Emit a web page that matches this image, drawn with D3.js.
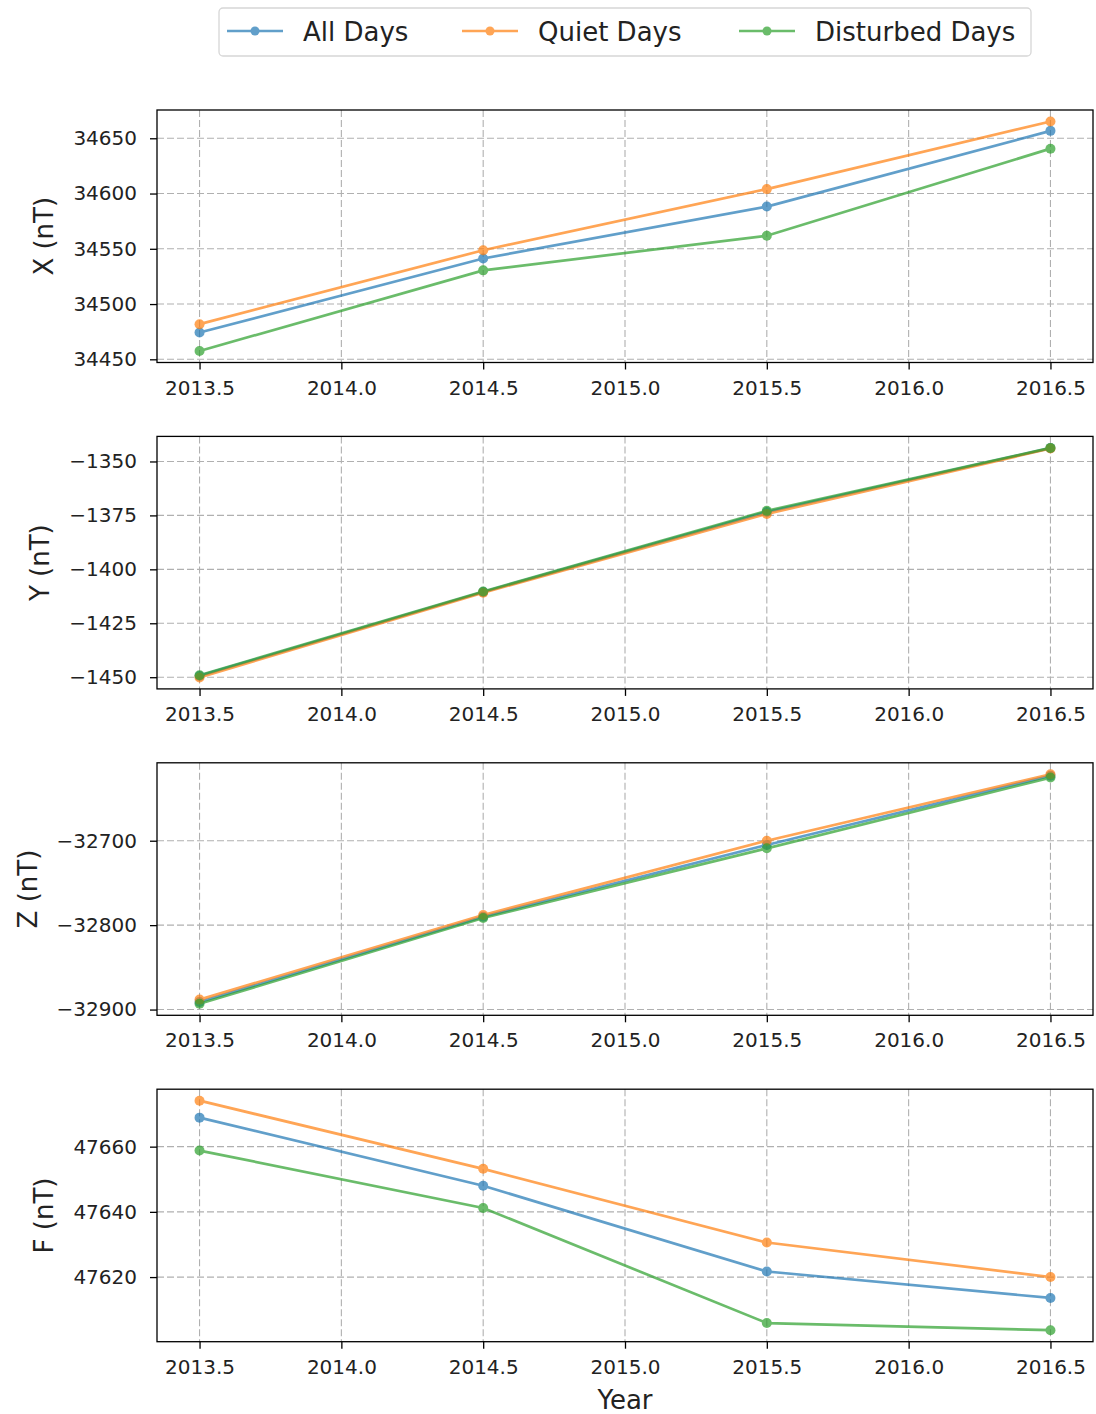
<!DOCTYPE html>
<html>
<head>
<meta charset="utf-8">
<script src="https://cdn.jsdelivr.net/npm/d3@7"></script>
<style>
  body { margin: 0; background: #fff; }
  svg { font-family: "DejaVu Sans", sans-serif; }
</style>
</head>
<body>
<svg id="chart" width="1096" height="1414"></svg>
<script>
// years of the annual means
var years = [2013.5, 2014.5, 2015.5, 2016.5];
var xTicks = [2013.5, 2014.0, 2014.5, 2015.0, 2015.5, 2016.0, 2016.5];

var seriesNames = ["All Days", "Quiet Days", "Disturbed Days"];
var seriesColors = ["#1f77b4", "#ff7f0e", "#2ca02c"];

var compX = "X (nT)";
var allX = [34474.2, 34541.2, 34588.2, 34656.7];
var quietX = [34481.8, 34548.7, 34604.0, 34665.2];
var distX = [34457.5, 34530.5, 34561.8, 34640.6];
var ticksX = [34450, 34500, 34550, 34600, 34650];

var compY = "Y (nT)";
var allY = [-1449.4, -1410.5, -1373.4, -1343.8];
var quietY = [-1450.1, -1410.8, -1374.3, -1344.0];
var distY = [-1449.1, -1410.3, -1372.9, -1343.7];
var ticksY = [-1450, -1425, -1400, -1375, -1350];

var compZ = "Z (nT)";
var allZ = [-32891.0, -32790.0, -32705.0, -32623.0];
var quietZ = [-32888.2, -32788.0, -32700.0, -32621.3];
var distZ = [-32893.2, -32791.5, -32709.0, -32625.2];
var ticksZ = [-32900, -32800, -32700];

var compF = "F (nT)";
var allF = [47668.9, 47648.0, 47621.7, 47613.6];
var quietF = [47674.1, 47653.2, 47630.6, 47620.0];
var distF = [47658.8, 47641.2, 47605.9, 47603.7];
var ticksF = [47620, 47640, 47660];

var panels = [
    { label: compX, series: [allX, quietX, distX], ticks: ticksX },
    { label: compY, series: [allY, quietY, distY], ticks: ticksY },
    { label: compZ, series: [allZ, quietZ, distZ], ticks: ticksZ },
    { label: compF, series: [allF, quietF, distF], ticks: ticksF }
];

var svg = d3.select("#chart");
var left = 157, right = 1093;
var firstTop = 110, step = 326.4, panelH = 252.5;

var x = d3.scaleLinear()
    .domain([years[0] - 0.15, years[years.length - 1] + 0.15])
    .range([left, right]);

panels.forEach(function (p, i) {
    var top = firstTop + i * step;
    var bottom = top + panelH;
    var all = d3.merge(p.series);
    var lo = d3.min(all), hi = d3.max(all);
    var m = (hi - lo) * 0.05;
    var y = d3.scaleLinear().domain([lo - m, hi + m]).range([bottom, top]);

    var g = svg.append("g");

    // grid
    g.selectAll(".gx").data(xTicks).enter().append("line")
        .attr("x1", function (d) { return x(d); })
        .attr("x2", function (d) { return x(d); })
        .attr("y1", top).attr("y2", bottom)
        .attr("stroke", "#b0b0b0").attr("stroke-width", 1.1)
        .attr("stroke-dasharray", "7,3");
    g.selectAll(".gy").data(p.ticks).enter().append("line")
        .attr("x1", left).attr("x2", right)
        .attr("y1", function (d) { return y(d); })
        .attr("y2", function (d) { return y(d); })
        .attr("stroke", "#b0b0b0").attr("stroke-width", 1.1)
        .attr("stroke-dasharray", "7,3");

    // series
    var line = d3.line()
        .x(function (d, j) { return x(years[j]); })
        .y(function (d) { return y(d); });
    p.series.forEach(function (vals, k) {
        var sg = g.append("g").attr("opacity", 0.7);
        sg.append("path")
            .attr("d", line(vals))
            .attr("fill", "none")
            .attr("stroke", seriesColors[k])
            .attr("stroke-width", 2.7);
        sg.selectAll("circle").data(vals).enter().append("circle")
            .attr("cx", function (d, j) { return x(years[j]); })
            .attr("cy", function (d) { return y(d); })
            .attr("r", 5)
            .attr("fill", seriesColors[k]);
    });

    // frame
    g.append("rect")
        .attr("x", left).attr("y", top)
        .attr("width", right - left).attr("height", panelH)
        .attr("fill", "none").attr("stroke", "#000").attr("stroke-width", 1.3);

    // axes
    var ax = g.append("g")
        .attr("transform", "translate(0," + bottom + ")")
        .call(d3.axisBottom(x).tickValues(xTicks).tickFormat(d3.format(".1f"))
            .tickSize(7).tickPadding(11));
    var ay = g.append("g")
        .attr("transform", "translate(" + left + ",0)")
        .call(d3.axisLeft(y).tickValues(p.ticks).tickFormat(d3.format("d"))
            .tickSize(7).tickPadding(13));
    [ax, ay].forEach(function (a) {
        a.select(".domain").remove();
        a.selectAll(".tick line").attr("stroke", "#000").attr("stroke-width", 1.3);
        a.selectAll(".tick text").attr("font-size", 20).attr("fill", "#222")
            .attr("font-family", "DejaVu Sans, sans-serif");
    });

    // the axis group is shifted by "left", so its bbox is local to that
    var bb = ay.node().getBBox();
    g.append("text")
        .attr("transform", "translate(" + (left + bb.x - 20) + "," + (top + panelH / 2) + ") rotate(-90)")
        .attr("text-anchor", "middle")
        .attr("font-size", 26)
        .attr("fill", "#222")
        .text(p.label);
});

svg.append("text")
    .attr("x", (left + right) / 2).attr("y", 1409)
    .attr("text-anchor", "middle")
    .attr("font-size", 26)
    .attr("fill", "#222")
    .text("Year");

// legend
var leg = svg.append("g");
leg.append("rect")
    .attr("x", 219).attr("y", 8).attr("width", 812).attr("height", 48)
    .attr("rx", 4).attr("ry", 4)
    .attr("fill", "#fff").attr("stroke", "#d6d6d6").attr("stroke-width", 1.3);
var legX = [227, 462, 739];
seriesNames.forEach(function (name, k) {
    var lg = leg.append("g").attr("transform", "translate(" + legX[k] + ",31)");
    var h = lg.append("g").attr("opacity", 0.7);
    h.append("line").attr("x1", 0).attr("x2", 56).attr("y1", 0).attr("y2", 0)
        .attr("stroke", seriesColors[k]).attr("stroke-width", 2.7);
    h.append("circle").attr("cx", 28).attr("cy", 0).attr("r", 4.5)
        .attr("fill", seriesColors[k]);
    lg.append("text").attr("x", 76).attr("y", 9.5)
        .attr("font-size", 26).attr("fill", "#222")
        .text(name);
});
</script>
</body>
</html>
